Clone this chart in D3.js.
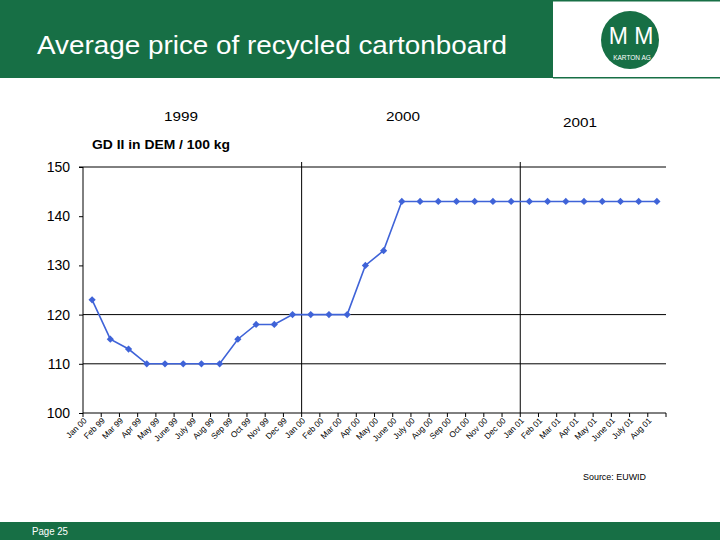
<!DOCTYPE html>
<html><head><meta charset="utf-8">
<script src="https://cdnjs.cloudflare.com/ajax/libs/d3/7.8.5/d3.min.js"></script>
<style>body{margin:0;background:#fff}svg{display:block;font-family:"Liberation Sans",Arial,sans-serif}</style>
</head><body><svg id="c" width="720" height="540"></svg>
<script>
const months = ["Jan 00","Feb 99","Mar 99","Apr 99","May 99","June 99","July 99","Aug 99","Sep 99","Oct 99","Nov 99","Dec 99",
"Jan 00","Feb 00","Mar 00","Apr 00","May 00","June 00","July 00","Aug 00","Sep 00","Oct 00","Nov 00","Dec 00",
"Jan 01","Feb 01","Mar 01","Apr 01","May 01","June 01","July 01","Aug 01"];
const prices = [123,115,113,110,110,110,110,110,115,118,118,120,
120,120,120,130,133,143,143,143,143,143,143,143,
143,143,143,143,143,143,143,143];
const yTicks = [100,110,120,130,140,150];
const gridValues = [110,120,150];
const yearLabels = ["1999","2000","2001"];
const yearDividers = [12,24];

const svg = d3.select("#c");
const green = "#176f45";
// header
svg.append("rect").attr("x",0).attr("y",0).attr("width",553).attr("height",78).attr("fill",green);
svg.append("rect").attr("x",553).attr("y",0).attr("width",167).attr("height",1.5).attr("fill",green);
svg.append("rect").attr("x",553).attr("y",77).attr("width",167).attr("height",1.5).attr("fill",green);
svg.append("text").attr("x",37).attr("y",54).attr("fill","#fff").attr("font-size",26)
  .attr("textLength",470).attr("lengthAdjust","spacingAndGlyphs").text("Average price of recycled cartonboard");
svg.append("circle").attr("cx",630).attr("cy",40).attr("r",29).attr("fill",green);
svg.append("text").attr("x",631).attr("y",44).attr("text-anchor","middle").attr("fill","#fff").attr("font-size",23).text("M M");
svg.append("text").attr("x",632).attr("y",60).attr("text-anchor","middle").attr("fill","#fff").attr("font-size",6.5).text("KARTON AG");
// footer
svg.append("rect").attr("x",0).attr("y",522).attr("width",720).attr("height",18).attr("fill",green);
svg.append("text").attr("x",32).attr("y",534.5).attr("fill","#fff").attr("font-size",10)
  .attr("textLength",36).attr("lengthAdjust","spacingAndGlyphs").text("Page 25");

const L=83, R=666, T=167, B=413;
const x = d3.scaleBand().domain(months.map((m,i)=>i)).range([L,R]);
const y = d3.scaleLinear().domain([100,150]).range([B,T]);
const g = svg.append("g");

// gridlines
g.selectAll(".grid").data(gridValues).join("line")
 .attr("x1",L).attr("x2",R).attr("y1",d=>y(d)).attr("y2",d=>y(d)).attr("stroke","#000").attr("stroke-width",1);
// year dividers
g.selectAll(".div").data(yearDividers).join("line")
 .attr("x1",d=>x(d)).attr("x2",d=>x(d)).attr("y1",T-5).attr("y2",B).attr("stroke","#000").attr("stroke-width",1);

// y axis
const ya = d3.axisLeft(y).tickValues(yTicks).tickSize(4).tickPadding(9);
const yg = g.append("g").attr("transform",`translate(${L},0)`).call(ya);
yg.select(".domain").attr("d",`M-4,${T}H0V${B}`).attr("stroke","#000");
yg.selectAll("text").attr("font-size",14).attr("font-family","Liberation Sans, Arial, sans-serif").attr("fill","#000");

// x axis
const xa = d3.axisBottom(x).tickFormat(i=>months[i]).tickSize(0);
const xg = g.append("g").attr("transform",`translate(0,${B})`).call(xa);
xg.select(".domain").attr("d",`M${L},0H${R}`).attr("stroke","#000");
xg.selectAll("text").attr("font-size",8.3).attr("font-family","Liberation Sans, Arial, sans-serif").attr("fill","#000")
  .attr("text-anchor","end").attr("dy",0).attr("transform","translate(-7,6) rotate(-45)");
xg.selectAll(".bt").data(d3.range(months.length+1)).join("line")
  .attr("x1",i=>L+i*x.step()).attr("x2",i=>L+i*x.step()).attr("y1",0).attr("y2",4).attr("stroke","#000");

// line
const line = d3.line().x((d,i)=>x(i)+x.bandwidth()/2).y(d=>y(d));
g.append("path").datum(prices).attr("d",line).attr("fill","none").attr("stroke","#3f63d8").attr("stroke-width",1.6);
g.selectAll(".pt").data(prices).join("path")
 .attr("d",d3.symbol(d3.symbolSquare,26))
 .attr("transform",(d,i)=>`translate(${x(i)+x.bandwidth()/2},${y(d)}) rotate(45)`)
 .attr("fill","#3f63d8");

// year labels
const yearPos = [[181,121],[403,121],[580,127]];
svg.selectAll(".yl").data(yearLabels).join("text").attr("x",(d,i)=>yearPos[i][0]).attr("y",(d,i)=>yearPos[i][1])
 .attr("text-anchor","middle").attr("font-size",13).attr("textLength",34).attr("lengthAdjust","spacingAndGlyphs")
 .attr("fill","#000").text(d=>d);
svg.append("text").attr("x",92).attr("y",149).attr("font-size",12).attr("font-weight","bold")
  .attr("textLength",138).attr("lengthAdjust","spacingAndGlyphs").text("GD II in DEM / 100 kg");
svg.append("text").attr("x",583).attr("y",480).attr("font-size",8.5)
  .attr("textLength",63).attr("lengthAdjust","spacingAndGlyphs").text("Source: EUWID");
</script></body></html>
